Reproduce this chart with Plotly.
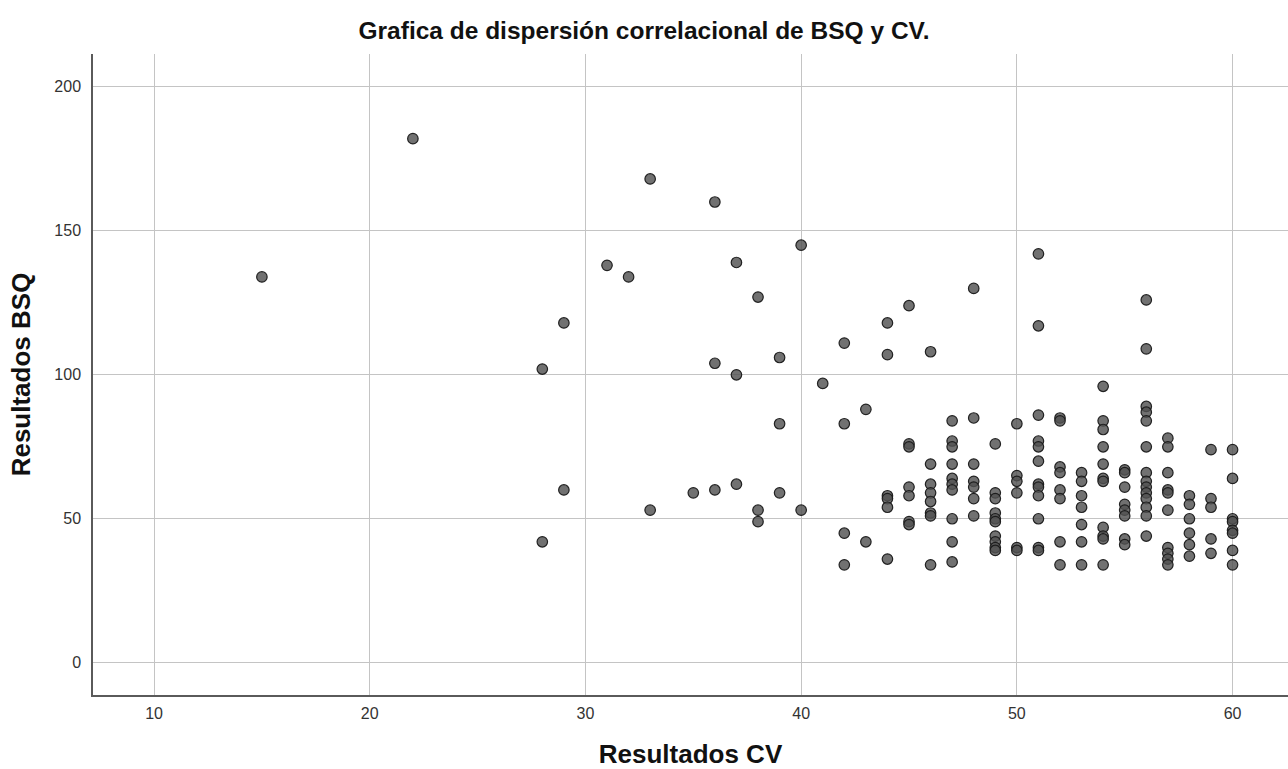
import plotly.graph_objects as go

# Resultados CV (x) grouped with the BSQ values observed at that CV score
cv_values = [15, 22, 28, 29, 31, 32, 33, 35, 36, 37, 38, 39, 40, 41, 42, 43, 44, 45,
             46, 47, 48, 49, 50, 51, 52, 53, 54, 55, 56, 57, 58, 59, 60]
bsq_by_cv = [
    [134],
    [182],
    [102, 42],
    [118, 60],
    [138],
    [134],
    [168, 53],
    [59],
    [160, 104, 60],
    [139, 100, 62],
    [127, 53, 49],
    [106, 83, 59],
    [145, 53],
    [97],
    [111, 83, 45, 34],
    [88, 42],
    [118, 107, 58, 57, 54, 36],
    [124, 76, 75, 61, 58, 49, 48],
    [108, 69, 62, 59, 56, 52, 51, 34],
    [84, 77, 75, 69, 64, 62, 60, 50, 42, 35],
    [130, 85, 69, 63, 61, 57, 51],
    [76, 59, 57, 52, 50, 49, 44, 42, 40, 39],
    [83, 65, 63, 59, 40, 39],
    [142, 117, 86, 77, 75, 70, 62, 61, 58, 50, 40, 39],
    [85, 84, 68, 66, 60, 57, 42, 34],
    [66, 63, 58, 54, 48, 42, 34],
    [96, 84, 81, 75, 69, 64, 63, 47, 44, 43, 34],
    [67, 66, 61, 55, 53, 51, 43, 41],
    [126, 109, 89, 87, 84, 75, 66, 63, 61, 59, 57, 54, 51, 44],
    [78, 75, 66, 60, 59, 53, 40, 38, 36, 34],
    [58, 55, 50, 45, 41, 37],
    [74, 57, 54, 43, 38],
    [74, 64, 50, 49, 46, 45, 39, 34],
]

x_ticks = [10, 20, 30, 40, 50, 60]
y_ticks = [0, 50, 100, 150, 200]

title_text = "Grafica de dispersión correlacional de BSQ y CV."
x_title = "Resultados CV"
y_title = "Resultados BSQ"

xs, ys = [], []
for c, vals in zip(cv_values, bsq_by_cv):
    for v in vals:
        xs.append(c)
        ys.append(v)

FONT = "Liberation Sans, Arial, sans-serif"

fig = go.Figure()
fig.add_trace(go.Scatter(
    x=xs, y=ys, mode="markers",
    marker=dict(size=10.5, color="rgba(82,82,82,0.82)",
                line=dict(color="rgba(25,25,25,0.95)", width=1.2)),
    showlegend=False, hoverinfo="x+y",
))

fig.update_layout(
    width=1288, height=769,
    margin=dict(l=93, r=0, t=54, b=74, pad=0),
    paper_bgcolor="white", plot_bgcolor="white",
    font=dict(family=FONT, color="#222"),
    title=dict(text="<b>" + title_text + "</b>", x=0.5, xanchor="center",
               y=1 - 30 / 769, yanchor="middle",
               font=dict(size=24.5, color="#111", family=FONT)),
    xaxis=dict(
        range=[7.17, 62.57], tickvals=x_ticks, ticktext=[str(t) for t in x_ticks],
        showgrid=True, gridcolor="#c4c4c4", gridwidth=1,
        zeroline=False, showline=True, linecolor="#5a5a5a", linewidth=1.5,
        ticks="", tickfont=dict(size=16, color="#333"), ticklabelstandoff=3,
        title=dict(text="<b>" + x_title + "</b>", font=dict(size=26, color="#111"), standoff=24),
    ),
    yaxis=dict(
        range=[-11.2, 211.4], tickvals=y_ticks, ticktext=[str(t) for t in y_ticks],
        showgrid=True, gridcolor="#c4c4c4", gridwidth=1,
        zeroline=False, showline=True, linecolor="#5a5a5a", linewidth=1.5,
        ticks="", tickfont=dict(size=16, color="#333"), ticklabelstandoff=7,
        title=dict(text="<b>" + y_title + "</b>", font=dict(size=26, color="#111"), standoff=16),
    ),
)

fig.write_html("out.html")
